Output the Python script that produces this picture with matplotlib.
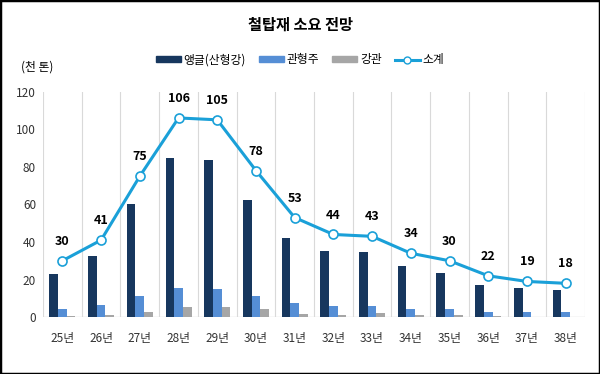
import numpy as np
import matplotlib
matplotlib.use("Agg")
import matplotlib.pyplot as plt
from matplotlib.patches import Rectangle, Patch
from matplotlib.lines import Line2D

plt.rcParams['font.family'] = ['Noto Sans CJK KR', 'DejaVu Sans']

years = ['25년', '26년', '27년', '28년', '29년', '30년', '31년',
         '32년', '33년', '34년', '35년', '36년', '37년', '38년']
angle = [23.1, 32.4, 60.3, 84.8, 83.6, 62.2, 42.0, 35.0, 34.5, 27.4, 23.3, 17.3, 15.3, 14.2]
tube = [4.6, 6.6, 11.0, 15.3, 14.8, 11.0, 7.5, 6.1, 6.1, 4.6, 4.1, 3.0, 3.0, 3.0]
pipe = [0.4, 0.9, 3.0, 5.2, 5.5, 4.1, 1.8, 1.4, 2.0, 1.4, 0.9, 0.4, 0.1, 0.1]
total = [30, 41, 75, 106, 105, 78, 53, 44, 43, 34, 30, 22, 19, 18]

c_navy = '#17375E'
c_blue = '#558ED5'
c_gray = '#A6A6A6'
c_line = '#1AA0D8'

fig = plt.figure(figsize=(6, 3.74), dpi=100)
ax = fig.add_axes([0.0717, 0.152, 0.9033, 0.603])

x = np.arange(len(years))
w = 0.224
ax.bar(x - w, angle, w, color=c_navy, zorder=2)
ax.bar(x, tube, w, color=c_blue, zorder=2)
ax.bar(x + w, pipe, w, color=c_gray, zorder=2)
ax.plot(x, total, color=c_line, lw=2.2, marker='o', ms=6.5,
        mfc='white', mec=c_line, mew=1.2, zorder=3)

for xi, t in zip(x, total):
    ax.annotate(str(t), (xi, t), xytext=(0, 14), textcoords='offset points',
                ha='center', va='center', fontsize=9, fontweight='bold')

ax.set_xlim(-0.5, len(years) - 0.5)
ax.set_ylim(0, 120)
ax.set_yticks(range(0, 121, 20))
ax.set_xticks(x)
ax.set_xticklabels(years)
for b in np.arange(-0.5, len(years), 1.0):
    ax.axvline(b, color='#D9D9D9', lw=0.8, zorder=1)
ax.axhline(0, color='#D9D9D9', lw=1, zorder=1)
for s in ax.spines.values():
    s.set_visible(False)
ax.tick_params(axis='both', length=0, labelsize=8.5, colors='#333333')
ax.tick_params(axis='x', pad=10.5)
ax.tick_params(axis='y', pad=5)

fig.text(0.5, 1 - 25 / 374, '철탑재 소요 전망', ha='center', va='center',
         fontsize=11, fontweight='bold')
fig.text(37 / 600, 1 - 67 / 374, '(천 톤)', ha='center', va='center', fontsize=8.5)

handles = [Patch(color=c_navy), Patch(color=c_blue), Patch(color=c_gray),
           Line2D([], [], color=c_line, lw=2.2, marker='o', ms=5,
                  mfc='white', mec=c_line, mew=1)]
fig.legend(handles, ['앵글(산형강)', '관형주', '강관', '소계'], ncol=4,
           loc='center', bbox_to_anchor=(0.5, 1 - 60 / 374), frameon=False,
           fontsize=8.5, handlelength=2.1, handleheight=0.4, columnspacing=1.1,
           handletextpad=0.25)

fig.patches.append(Rectangle((0, 0), 1, 1, transform=fig.transFigure,
                             fill=False, edgecolor='black', lw=2.5))

fig.savefig('out.png', dpi=100)
